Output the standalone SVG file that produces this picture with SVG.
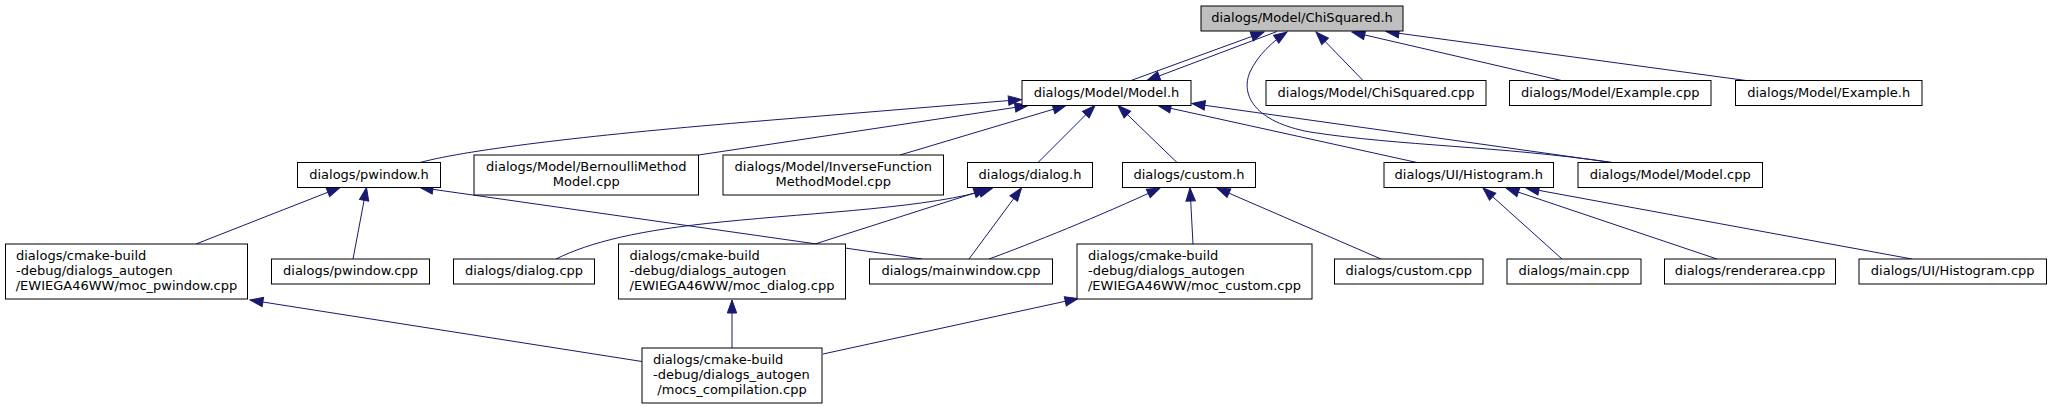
<svg xmlns="http://www.w3.org/2000/svg" width="2052" height="409" viewBox="0 0 2052 409">
<style>
.n rect{fill:#ffffff;stroke:#000000;stroke-width:1}
.root rect{fill:#bfbfbf}
.n text{font-family:"DejaVu Sans","Liberation Sans",sans-serif;font-size:13px;fill:#000000}
.c{text-anchor:middle}
.l{text-anchor:start}
.e path{fill:none;stroke:#191970;stroke-width:1;marker-end:url(#ah)}
</style>
<defs>
<marker id="ah" markerUnits="userSpaceOnUse" viewBox="-14 -6 15 12" markerWidth="15" markerHeight="12" refX="0" refY="0" orient="auto">
<path d="M-13,-4.7 L0,0 L-13,4.7 Z" fill="#191970" stroke="#191970" stroke-width="1"/>
</marker>
</defs>
<rect width="2052" height="409" fill="#ffffff"/>
<g id="edges" class="e">
<path d="M1131,80.5 L1264,32"/>
<path d="M1277,31.5 L1147,80.5"/>
<path d="M1612,162.5 C1500,146 1400,146 1310,132 C1255,122 1240,95 1250,72 C1258,55 1272,42 1287,32"/>
<path d="M1363,80.5 L1316,32"/>
<path d="M1561.5,80.5 L1352,32"/>
<path d="M1746,80.5 L1386,31.5"/>
<path d="M420,162.5 C470,149 600,134 760,121 L1021.5,99.5"/>
<path d="M698.5,155 L1028,105.5"/>
<path d="M900,155 L1066,105.5"/>
<path d="M1038,162.5 L1095,105.5"/>
<path d="M1177,162.5 L1118,105.5"/>
<path d="M1417,162.5 L1158,105.5"/>
<path d="M1612,162.5 L1192,103.5"/>
<path d="M196,244 L340,187.5"/>
<path d="M353,259 L366.5,187.5"/>
<path d="M922,259 L420,187.5"/>
<path d="M556,259 C590,242 640,230 721,222 C820,212 930,208 992,188.5"/>
<path d="M815,244 L987,189"/>
<path d="M969,259 L1021.5,188"/>
<path d="M989,259 C1030,244 1100,216 1160,188"/>
<path d="M1193,244 L1190,188"/>
<path d="M1381,259 L1217,188"/>
<path d="M1562,259 L1483,188"/>
<path d="M1717,259 L1506,188"/>
<path d="M1912,259 L1526,188"/>
<path d="M642,361.5 L250,300"/>
<path d="M732,348 L732,300"/>
<path d="M823,354 L1078,298.5"/>
</g>
<g id="n_chisquared_h" class="n root"><rect x="1201" y="6" width="202" height="25"/><text class="c" x="1302" y="22">dialogs/Model/ChiSquared.h</text></g>
<g id="n_model_h" class="n"><rect x="1022" y="80.5" width="169" height="25"/><text class="c" x="1106.5" y="96.5">dialogs/Model/Model.h</text></g>
<g id="n_chisquared_cpp" class="n"><rect x="1266" y="80.5" width="220" height="25"/><text class="c" x="1376" y="96.5">dialogs/Model/ChiSquared.cpp</text></g>
<g id="n_example_cpp" class="n"><rect x="1509.5" y="80.5" width="201.5" height="25"/><text class="c" x="1610.25" y="96.5">dialogs/Model/Example.cpp</text></g>
<g id="n_example_h" class="n"><rect x="1735.5" y="80.5" width="186.5" height="25"/><text class="c" x="1828.75" y="96.5">dialogs/Model/Example.h</text></g>
<g id="n_pwindow_h" class="n"><rect x="297.5" y="162.5" width="143" height="25"/><text class="c" x="369" y="178.5">dialogs/pwindow.h</text></g>
<g id="n_bernoulli" class="n"><rect x="474" y="155" width="224.5" height="40"/><text class="c" x="586.25" y="171">dialogs/Model/BernoulliMethod</text><text class="c" x="586.25" y="186">Model.cpp</text></g>
<g id="n_inverse" class="n"><rect x="723" y="155" width="220.5" height="40"/><text class="c" x="833.25" y="171">dialogs/Model/InverseFunction</text><text class="c" x="833.25" y="186">MethodModel.cpp</text></g>
<g id="n_dialog_h" class="n"><rect x="967.5" y="162.5" width="125" height="25"/><text class="c" x="1030" y="178.5">dialogs/dialog.h</text></g>
<g id="n_custom_h" class="n"><rect x="1122.5" y="162.5" width="133" height="25"/><text class="c" x="1189" y="178.5">dialogs/custom.h</text></g>
<g id="n_histogram_h" class="n"><rect x="1384" y="162.5" width="169.5" height="25"/><text class="c" x="1468.75" y="178.5">dialogs/UI/Histogram.h</text></g>
<g id="n_model_cpp" class="n"><rect x="1578" y="162.5" width="184.5" height="25"/><text class="c" x="1670.25" y="178.5">dialogs/Model/Model.cpp</text></g>
<g id="n_moc_pwindow" class="n"><rect x="5.5" y="244" width="242" height="55"/><text class="l" x="16" y="260">dialogs/cmake-build</text><text class="l" x="16" y="275">-debug/dialogs_autogen</text><text class="c" x="126.5" y="290">/EWIEGA46WW/moc_pwindow.cpp</text></g>
<g id="n_pwindow_cpp" class="n"><rect x="271.5" y="259" width="158" height="25"/><text class="c" x="350.5" y="275">dialogs/pwindow.cpp</text></g>
<g id="n_dialog_cpp" class="n"><rect x="453.5" y="259" width="141" height="25"/><text class="c" x="524" y="275">dialogs/dialog.cpp</text></g>
<g id="n_moc_dialog" class="n"><rect x="618.5" y="244" width="227" height="55"/><text class="l" x="629.5" y="260">dialogs/cmake-build</text><text class="l" x="629.5" y="275">-debug/dialogs_autogen</text><text class="c" x="732" y="290">/EWIEGA46WW/moc_dialog.cpp</text></g>
<g id="n_mainwindow_cpp" class="n"><rect x="869.5" y="259" width="183" height="25"/><text class="c" x="961" y="275">dialogs/mainwindow.cpp</text></g>
<g id="n_moc_custom" class="n"><rect x="1077" y="244" width="235" height="55"/><text class="l" x="1088" y="260">dialogs/cmake-build</text><text class="l" x="1088" y="275">-debug/dialogs_autogen</text><text class="c" x="1194.5" y="290">/EWIEGA46WW/moc_custom.cpp</text></g>
<g id="n_custom_cpp" class="n"><rect x="1334.5" y="259" width="148.5" height="25"/><text class="c" x="1408.75" y="275">dialogs/custom.cpp</text></g>
<g id="n_main_cpp" class="n"><rect x="1507" y="259" width="134" height="25"/><text class="c" x="1574" y="275">dialogs/main.cpp</text></g>
<g id="n_renderarea_cpp" class="n"><rect x="1664.5" y="259" width="171" height="25"/><text class="c" x="1750" y="275">dialogs/renderarea.cpp</text></g>
<g id="n_histogram_cpp" class="n"><rect x="1859" y="259" width="187.5" height="25"/><text class="c" x="1952.75" y="275">dialogs/UI/Histogram.cpp</text></g>
<g id="n_mocs_compilation" class="n"><rect x="642" y="348" width="180" height="55"/><text class="l" x="653" y="364">dialogs/cmake-build</text><text class="l" x="653" y="379">-debug/dialogs_autogen</text><text class="c" x="732" y="394">/mocs_compilation.cpp</text></g>
</svg>
